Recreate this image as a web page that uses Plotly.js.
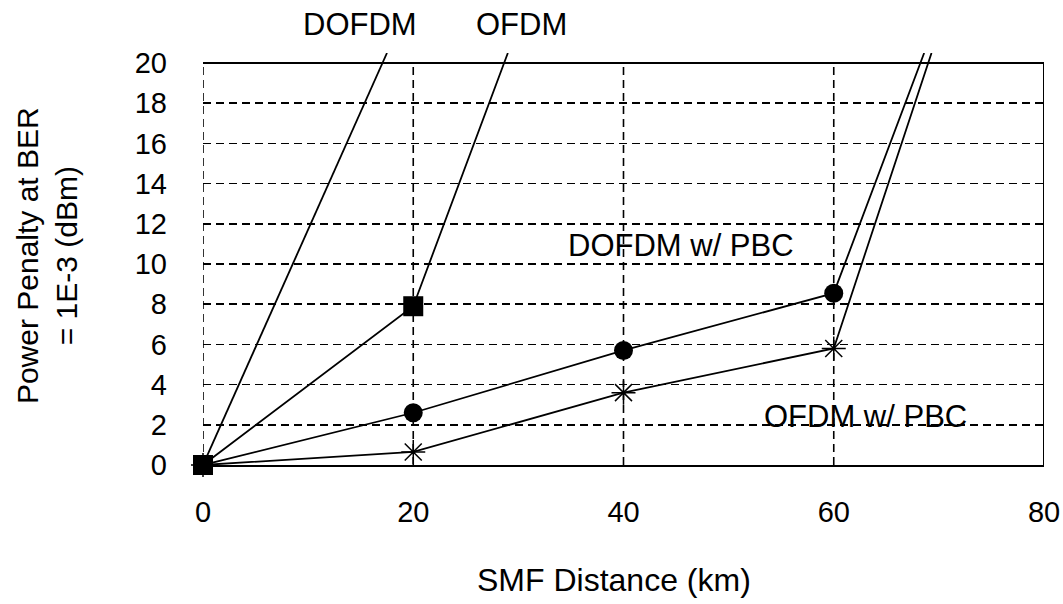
<!DOCTYPE html>
<html>
<head>
<meta charset="utf-8">
<script src="https://cdn.plot.ly/plotly-3.0.1.min.js"></script>
<style>html,body{margin:0;padding:0;background:#fff;}#chart{width:1063px;height:604px;}</style>
</head>
<body>
<div id="chart"></div>
<script>
// Data (last point of each series = where the line leaves the top of the frame)
const dofdmX = [0, 17.5];
const dofdmY = [0, 20.5];
const ofdmX = [0, 20, 29.0];
const ofdmY = [0, 7.9, 20.5];
const dofdmPbcX = [0, 20, 40, 60, 68.6];
const dofdmPbcY = [0, 2.6, 5.7, 8.55, 20.5];
const ofdmPbcX = [0, 20, 40, 60, 69.3];
const ofdmPbcY = [0, 0.65, 3.6, 5.8, 20.5];

const xTicks = [0, 20, 40, 60, 80];
const yTicks = [0, 2, 4, 6, 8, 10, 12, 14, 16, 18, 20];

// labels inside the frame (data coordinates)
const labelTexts = ["DOFDM w/ PBC", "OFDM w/ PBC"];
const labelX = [45.5, 63.0];
const labelY = [10.9, 2.4];
// labels above the frame
const topTexts = ["DOFDM", "OFDM"];
const topX = [14.9, 30.3];

const xTitle = "SMF Distance (km)";
const yTitle = "Power Penalty at BER<br>= 1E-3 (dBm)";

const FONT = "Liberation Sans, Arial, sans-serif";
const xMax = xTicks[xTicks.length - 1];
const yMax = yTicks[yTicks.length - 1];

function sizes(ys, s) { return ys.map(v => (v <= yMax ? s : 0)); }

const lineStyle = {color: "#000", width: 1.8};

const traces = [
  {x: dofdmX, y: dofdmY, mode: "lines", line: lineStyle, cliponaxis: false, name: "DOFDM"},
  {x: dofdmPbcX, y: dofdmPbcY, mode: "lines+markers", line: lineStyle, cliponaxis: false, name: "DOFDM w/ PBC",
   marker: {symbol: "circle", color: "#000", opacity: 1, size: sizes(dofdmPbcY, 19), line: {width: 0}}},
  {x: ofdmPbcX, y: ofdmPbcY, mode: "lines+markers", line: lineStyle, cliponaxis: false, name: "OFDM w/ PBC",
   marker: {symbol: "asterisk-open", color: "#000", opacity: 1, size: sizes(ofdmPbcY, 20), line: {color: "#000", width: 1.5}}},
  {x: ofdmX, y: ofdmY, mode: "lines+markers", line: lineStyle, cliponaxis: false, name: "OFDM",
   marker: {symbol: "square", color: "#000", opacity: 1, size: sizes(ofdmY, 20), line: {width: 0}}}
];

const dash = "8px,5px";
const shapes = [];
xTicks.filter(v => v < xMax).forEach(v => {
  shapes.push({type: "line", xref: "x", yref: "y", x0: v, x1: v, y0: 0, y1: yMax, layer: "below",
    line: {color: "#000", width: 1.6, dash: dash}});
});
shapes.push({type: "line", xref: "x", yref: "y", x0: 0, x1: xMax, y0: yMax, y1: yMax, layer: "above",
  line: {color: "#000", width: 2}});
shapes.push({type: "line", xref: "x", yref: "y", x0: xMax, x1: xMax, y0: 0, y1: yMax, layer: "above",
  line: {color: "#000", width: 2}});

const annotations = labelTexts.map((t, i) => ({
  text: t, x: labelX[i], y: labelY[i], xref: "x", yref: "y", showarrow: false,
  xanchor: "center", yanchor: "middle", font: {family: FONT, size: 31, color: "#000"}
}));
topTexts.forEach((t, i) => annotations.push({
  text: t, x: topX[i], y: 1, xref: "x", yref: "paper", yshift: 29, showarrow: false,
  xanchor: "center", yanchor: "middle", font: {family: FONT, size: 31, color: "#000"}
}));
annotations.push({text: xTitle, xref: "paper", yref: "paper", x: 0.5, y: 0, xshift: -10, yshift: -115,
  xanchor: "center", yanchor: "middle", showarrow: false, font: {family: FONT, size: 32, color: "#000"}});
annotations.push({text: yTitle, xref: "paper", yref: "paper", x: 0, y: 0.507, xshift: -156,
  xanchor: "center", yanchor: "middle", textangle: -90, showarrow: false,
  font: {family: FONT, size: 30, color: "#000"}});

const layout = {
  width: 1063, height: 604,
  margin: {l: 203, r: 19, t: 53, b: 139, pad: 0},
  paper_bgcolor: "#fff", plot_bgcolor: "#fff",
  showlegend: false,
  font: {family: FONT, color: "#000"},
  xaxis: {range: [0, xMax], tickvals: xTicks, ticktext: xTicks.map(String), showgrid: false, zeroline: false,
    showline: true, linecolor: "#000", linewidth: 2, ticks: "", ticklabelstandoff: 20,
    tickfont: {family: FONT, size: 29, color: "#000"}, fixedrange: true},
  yaxis: {range: [0, 20.5], tickvals: yTicks, ticktext: yTicks.map(String), showgrid: true, gridcolor: "#000",
    gridwidth: 1.6, griddash: dash, zeroline: false, showline: false, ticks: "", ticklabelstandoff: 35,
    tickfont: {family: FONT, size: 29, color: "#000"}, fixedrange: true},
  shapes: shapes,
  annotations: annotations
};

Plotly.newPlot("chart", traces, layout, {staticPlot: true, displayModeBar: false});
</script>
</body>
</html>
